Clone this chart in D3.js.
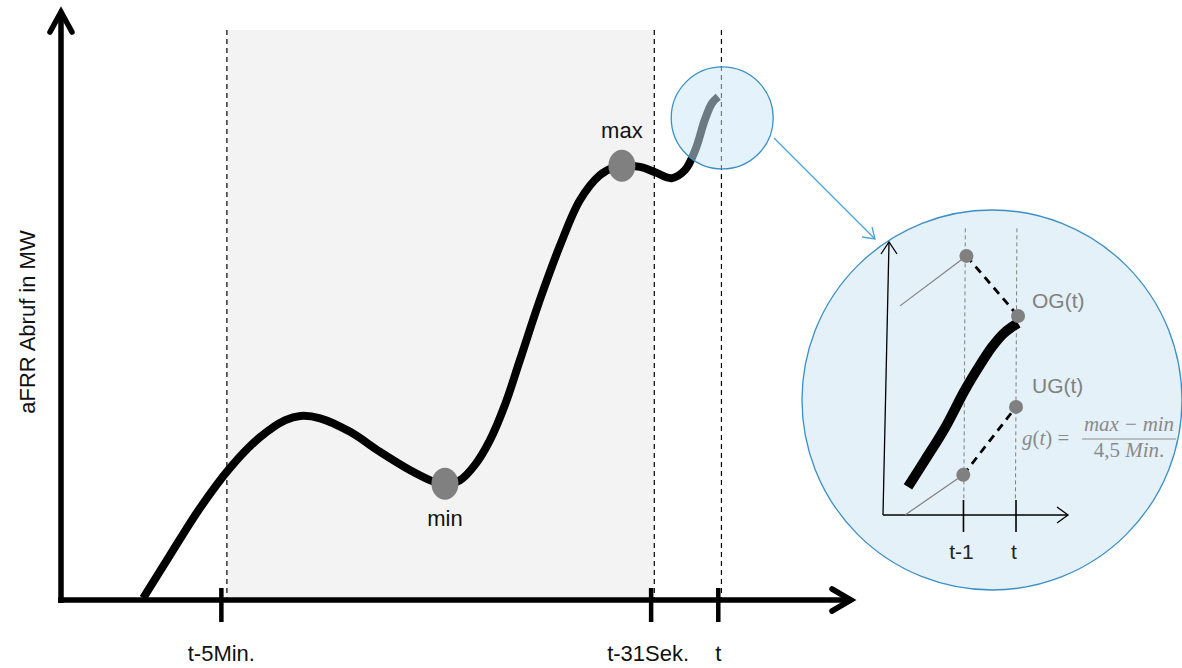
<!DOCTYPE html>
<html>
<head>
<meta charset="utf-8">
<script src="https://cdn.jsdelivr.net/npm/d3@7/dist/d3.min.js"></script>
<style>
  html, body { margin: 0; padding: 0; background: #fff; }
  svg { display: block; font-family: "Liberation Sans", Arial, sans-serif; }
</style>
</head>
<body>
<svg id="chart" width="1182" height="668"></svg>
<script>
// ---------------- DATA (abstract units, 0..100) ----------------
// Main aFRR curve
const curveX = [10.4, 13.8, 17.6, 21.4, 25.2, 28.4, 30.3, 32.8, 36.6, 40.4, 44.2, 47.3, 48.6, 50.5, 52.4, 54.3, 56.2, 58.1, 60.6, 63.2, 65.7, 68.2, 70.1, 71.0, 73.3, 75.2, 77.3, 79.0, 80.3, 81.5, 82.4, 83.2];
const curveY = [0.3, 7.6, 15.6, 22.4, 27.6, 30.5, 31.2, 30.8, 28.5, 25.1, 22.0, 20.0, 19.7, 20.3, 22.9, 27.1, 33.1, 40.7, 50.8, 60.2, 67.8, 72.0, 73.4, 73.6, 73.4, 72.5, 71.5, 72.9, 76.3, 81.4, 84.2, 85.3];
// Time axis ticks
const tickLabels = ["t-5Min.", "t-31Sek.", "t"];
const tickX = [20.3, 74.7, 83.2];
const guideX = [21.0, 75.1, 83.6];
const windowStart = 21.1, windowEnd = 75.1, windowTop = 96.6;
// Extremes
const extremeLabels = ["min", "max"];
const extremeX = [48.6, 71.0];
const extremeY = [19.7, 73.6];
// Zoom focus centre (on main chart)
const focusX = 83.7, focusY = 81.7;

// Inset (magnified) chart
const insetCurveX = [13.5, 22.7, 33.5, 44.3, 52.4, 58.9, 64.9, 69.7, 73.0];
const insetCurveY = [10.3, 20.1, 31.9, 45.8, 54.9, 61.5, 66.3, 68.9, 70.3];
const insetTickLabels = ["t-1", "t"];
const insetTickX = [43.5, 71.9];
const insetGuideX = [44.5, 72.4];
const insetGuideTop = 105, insetGuideBottom = 5.5;
const upperBoundX = [9.2, 45.1, 73.0];   // OG: history line, t-1 point, t point
const upperBoundY = [76.6, 94.9, 72.9];
const lowerBoundX = [11.9, 43.4, 71.9];  // UG
const lowerBoundY = [0, 14.7, 39.6];
const boundLabels = ["OG(t)", "UG(t)"];
const yLabel = "aFRR Abruf in MW";

// ---------------- DRAWING ----------------
const svg = d3.select("#chart");
const x = d3.scaleLinear().domain([0, 100]).range([61, 851]);
const y = d3.scaleLinear().domain([0, 100]).range([600, 10]);

const xi = d3.scaleLinear().domain([0, 100]).range([883, 1068]);
const yi = d3.scaleLinear().domain([0, 100]).range([515, 242]);

// shaded window
svg.append("rect")
  .attr("x", x(windowStart)).attr("y", y(windowTop))
  .attr("width", x(windowEnd) - x(windowStart))
  .attr("height", y(0) - y(windowTop))
  .attr("fill", "#f3f3f3");

// dashed guides
svg.selectAll("line.guide").data(guideX).join("line")
  .attr("class", "guide")
  .attr("x1", d => x(d)).attr("x2", d => x(d))
  .attr("y1", y(windowTop)).attr("y2", y(0))
  .attr("stroke", "#000").attr("stroke-width", 1.2)
  .attr("stroke-dasharray", "5,4");

// main curve
const pts = curveX.map((d, i) => [d, curveY[i]]);
const line = d3.line().x(d => x(d[0])).y(d => y(d[1])).curve(d3.curveCatmullRom.alpha(0.5));
svg.append("path").datum(pts)
  .attr("d", line)
  .attr("fill", "none").attr("stroke", "#000").attr("stroke-width", 8)
  .attr("stroke-linejoin", "round");

// extremes
extremeLabels.forEach((lab, i) => {
  svg.append("ellipse")
    .attr("cx", x(extremeX[i])).attr("cy", y(extremeY[i]))
    .attr("rx", 13.5).attr("ry", 16)
    .attr("fill", "#808080");
  svg.append("text")
    .attr("x", x(extremeX[i]))
    .attr("y", lab === "min" ? y(extremeY[i]) + 42 : y(extremeY[i]) - 28)
    .attr("text-anchor", "middle")
    .attr("font-size", 22).attr("fill", "#111")
    .text(lab);
});

// axes
svg.append("line")
  .attr("x1", x(0)).attr("x2", x(0)).attr("y1", y(0) + 3).attr("y2", 12)
  .attr("stroke", "#000").attr("stroke-width", 5.5);
svg.append("path")
  .attr("d", `M${x(0) - 11},${32} L${x(0)},${12} L${x(0) + 11},${32}`)
  .attr("fill", "none").attr("stroke", "#000").attr("stroke-width", 5.5)
  .attr("stroke-linecap", "round").attr("stroke-linejoin", "miter");
svg.append("line")
  .attr("x1", x(0) - 3).attr("x2", x(100)).attr("y1", y(0)).attr("y2", y(0))
  .attr("stroke", "#000").attr("stroke-width", 5.5);
svg.append("path")
  .attr("d", `M${x(100) - 19},${y(0) - 11} L${x(100)},${y(0)} L${x(100) - 19},${y(0) + 11}`)
  .attr("fill", "none").attr("stroke", "#000").attr("stroke-width", 5.5)
  .attr("stroke-linecap", "round").attr("stroke-linejoin", "miter");

// ticks + labels
tickX.forEach((t, i) => {
  svg.append("line")
    .attr("x1", x(t)).attr("x2", x(t)).attr("y1", y(0) - 12).attr("y2", y(0) + 22)
    .attr("stroke", "#000").attr("stroke-width", 4.5);
  svg.append("text")
    .attr("x", x(t) - (i === 1 ? 3 : 0)).attr("y", 661)
    .attr("text-anchor", "middle")
    .attr("font-size", 22).attr("fill", "#111")
    .text(tickLabels[i]);
});

// y label
svg.append("text")
  .attr("transform", `translate(35,322) rotate(-90)`)
  .attr("text-anchor", "middle")
  .attr("font-size", 22).attr("fill", "#111")
  .text(yLabel);

// focus circle (translucent overlay)
const fcx = x(focusX), fcy = y(focusY);
svg.append("circle")
  .attr("cx", fcx).attr("cy", fcy).attr("r", 51)
  .attr("fill", "rgb(204,232,248)").attr("fill-opacity", 0.53)
  .attr("stroke", "#3b8fc6").attr("stroke-width", 1.3);

// connector arrow
const ax1 = 774, ay1 = 138, ax2 = 875, ay2 = 239;
svg.append("line")
  .attr("x1", ax1).attr("y1", ay1).attr("x2", ax2).attr("y2", ay2)
  .attr("stroke", "#4aa3d8").attr("stroke-width", 1.3);
svg.append("path")
  .attr("d", `M${ax2 - 13},${ay2 - 2} L${ax2},${ay2} L${ax2 - 3},${ay2 - 12}`)
  .attr("fill", "none").attr("stroke", "#4aa3d8").attr("stroke-width", 1.3);

// big magnified circle
svg.append("circle")
  .attr("cx", 992).attr("cy", 400).attr("r", 190)
  .attr("fill", "#e4f1f8").attr("stroke", "#3b8fc6").attr("stroke-width", 1.3);

// inset guides
svg.selectAll("line.iguide").data(insetGuideX).join("line")
  .attr("class", "iguide")
  .attr("x1", d => xi(d)).attr("x2", d => xi(d) - 1.5)
  .attr("y1", yi(insetGuideTop)).attr("y2", yi(insetGuideBottom))
  .attr("stroke", "#808080").attr("stroke-width", 1)
  .attr("stroke-dasharray", "4,3");

// inset axes
svg.append("line")
  .attr("x1", xi(0)).attr("y1", yi(0)).attr("x2", xi(0) + 6).attr("y2", yi(100))
  .attr("stroke", "#000").attr("stroke-width", 1.3);
svg.append("path")
  .attr("d", `M${xi(0) - 2},${yi(100) + 12} L${xi(0) + 6},${yi(100)} L${xi(0) + 14},${yi(100) + 12}`)
  .attr("fill", "none").attr("stroke", "#000").attr("stroke-width", 1.3);
svg.append("line")
  .attr("x1", xi(0)).attr("y1", yi(0)).attr("x2", xi(100)).attr("y2", yi(0))
  .attr("stroke", "#000").attr("stroke-width", 1.3);
svg.append("path")
  .attr("d", `M${xi(100) - 11},${yi(0) - 8} L${xi(100)},${yi(0)} L${xi(100) - 11},${yi(0) + 8}`)
  .attr("fill", "none").attr("stroke", "#000").attr("stroke-width", 1.3);

insetTickX.forEach((t, i) => {
  svg.append("line")
    .attr("x1", xi(t)).attr("x2", xi(t)).attr("y1", yi(0) - 15).attr("y2", yi(0) + 17)
    .attr("stroke", "#000").attr("stroke-width", 1.6);
  svg.append("text")
    .attr("x", xi(t) - 2).attr("y", 559)
    .attr("text-anchor", "middle")
    .attr("font-size", 21).attr("fill", "#222")
    .text(insetTickLabels[i]);
});

// bounds (OG / UG)
[[upperBoundX, upperBoundY], [lowerBoundX, lowerBoundY]].forEach(([bx, by], k) => {
  svg.append("line")
    .attr("x1", xi(bx[0])).attr("y1", yi(by[0])).attr("x2", xi(bx[1])).attr("y2", yi(by[1]))
    .attr("stroke", "#808080").attr("stroke-width", 1.2);
  svg.append("line")
    .attr("x1", xi(bx[1])).attr("y1", yi(by[1])).attr("x2", xi(bx[2])).attr("y2", yi(by[2]))
    .attr("stroke", "#000").attr("stroke-width", 2.8)
    .attr("stroke-dasharray", "8,6");
  svg.append("text")
    .attr("x", 1032).attr("y", k === 0 ? 308 : 393)
    .attr("font-size", 21).attr("fill", "#808080")
    .text(boundLabels[k]);
});

// inset curve
const ipts = insetCurveX.map((d, i) => [d, insetCurveY[i]]);
const iline = d3.line().x(d => xi(d[0])).y(d => yi(d[1])).curve(d3.curveCatmullRom.alpha(0.5));
svg.append("path").datum(ipts)
  .attr("d", iline)
  .attr("fill", "none").attr("stroke", "#000").attr("stroke-width", 10)
  .attr("stroke-linejoin", "round");

// bound points on top
[[upperBoundX, upperBoundY], [lowerBoundX, lowerBoundY]].forEach(([bx, by]) => {
  [1, 2].forEach(j => {
    svg.append("circle")
      .attr("cx", xi(bx[j])).attr("cy", yi(by[j])).attr("r", 7)
      .attr("fill", "#808080");
  });
});

// formula
const f = svg.append("g").attr("font-family", "'Liberation Serif', 'DejaVu Serif', serif")
  .attr("fill", "#8a8a8a").attr("font-size", 21);
const lhs = f.append("text").attr("x", 1022).attr("y", 445);
lhs.append("tspan").attr("font-style", "italic").text("g");
lhs.append("tspan").text("(");
lhs.append("tspan").attr("font-style", "italic").text("t");
lhs.append("tspan").text(") =");
f.append("text").attr("x", 1129).attr("y", 431).attr("text-anchor", "middle")
  .attr("font-style", "italic").attr("textLength", 90).attr("lengthAdjust", "spacing")
  .text("max \u2212 min");
const den = f.append("text").attr("x", 1129).attr("y", 457).attr("text-anchor", "middle");
den.append("tspan").text("4,5 ");
den.append("tspan").attr("font-style", "italic").text("Min");
den.append("tspan").text(".");
f.append("line").attr("x1", 1082).attr("x2", 1176).attr("y1", 439).attr("y2", 439)
  .attr("stroke", "#8a8a8a").attr("stroke-width", 1.2);
</script>
</body>
</html>
